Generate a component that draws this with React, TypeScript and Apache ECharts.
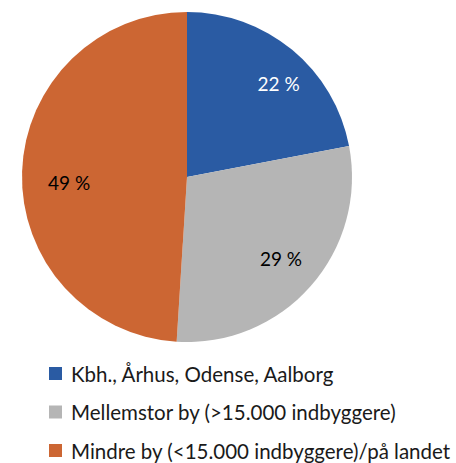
import React, { useEffect, useRef } from "react";
import * as echarts from "echarts";

const categories = [
  "Kbh., Århus, Odense, Aalborg",
  "Mellemstor by (>15.000 indbyggere)",
  "Mindre by (<15.000 indbyggere)/på landet",
];
const values = [22, 29, 49];
const colors = ["#2A5BA3", "#B5B5B5", "#CC6633"];
const labelColors = ["#FFFFFF", "#000000", "#000000"];
const labelOffsets = [[10, 5], [-2, -3], [10, 10]];

export default function App() {
  const ref = useRef<HTMLDivElement>(null);
  useEffect(() => {
    if (!ref.current) return;
    const chart = echarts.init(ref.current, undefined, { renderer: "svg" });
    const font = "Lato, 'Open Sans', sans-serif";
    chart.setOption({
      animation: false,
      legend: {
        orient: "vertical",
        left: 49,
        top: 363,
        height: 200,
        padding: 0,
        icon: "rect",
        itemWidth: 13,
        itemHeight: 13,
        itemGap: 17.5,
        textStyle: {
          fontFamily: font,
          fontSize: 20.5,
          color: "#1a1a1a",
          lineHeight: 21,
          padding: [0, 0, 0, 4],
        },
        data: categories,
      },
      series: [
        {
          type: "pie",
          center: [187, 177],
          radius: [0, 165],
          startAngle: 90,
          clockwise: true,
          label: { show: false },
          labelLine: { show: false },
          emphasis: { disabled: true },
          data: categories.map((name, i) => ({
            name,
            value: values[i],
            itemStyle: { color: colors[i] },
          })),
        },
        {
          type: "pie",
          center: [187, 177],
          radius: [85, 165],
          startAngle: 90,
          clockwise: true,
          silent: true,
          legendHoverLink: false,
          emphasis: { disabled: true },
          itemStyle: { color: "transparent" },
          labelLine: { show: false },
          label: {
            show: true,
            position: "inside",
            fontFamily: font,
            fontSize: 19,
            formatter: (p: any) => `${p.value} %`,
          },
          data: categories.map((name, i) => ({
            name: name + " ",
            value: values[i],
            label: { color: labelColors[i], offset: labelOffsets[i] },
          })),
        },
      ],
    });
    return () => chart.dispose();
  }, []);
  return (
    <div
      ref={ref}
      style={{ position: "fixed", left: 0, top: 0, width: 456, height: 463, background: "#fff" }}
    />
  );
}
